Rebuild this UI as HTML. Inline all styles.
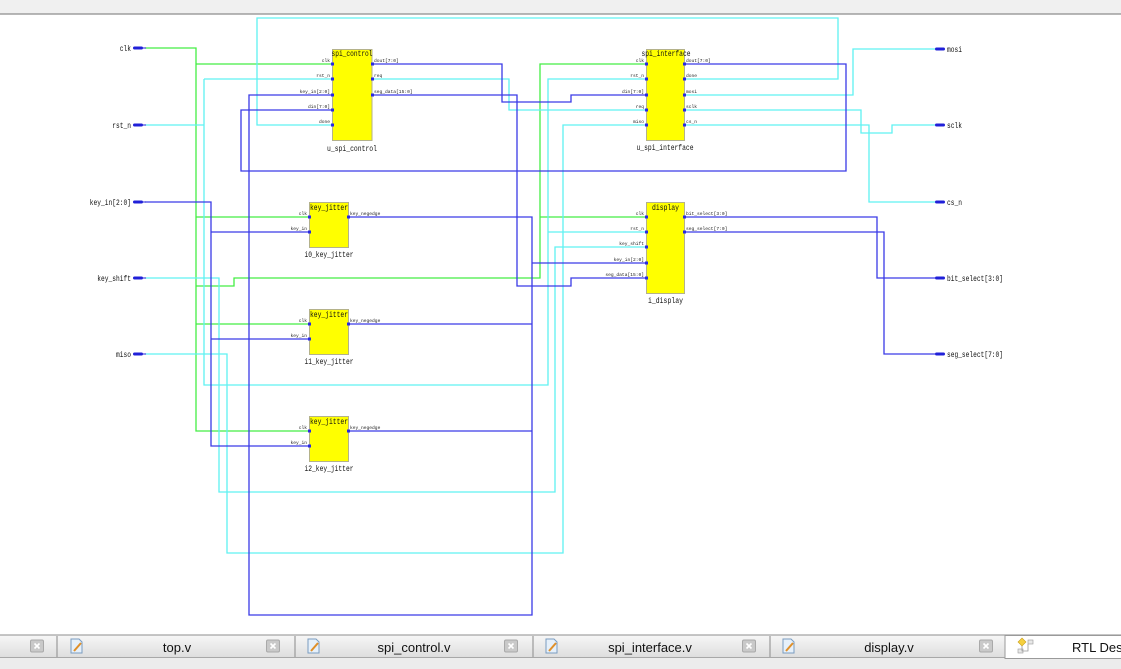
<!DOCTYPE html>
<html><head><meta charset="utf-8"><style>
html,body{margin:0;padding:0;background:#fff;}
svg{display:block;}
.pl{font-family:"Liberation Mono",monospace;font-size:8px;fill:#111;}
.pn{font-family:"Liberation Mono",monospace;font-size:4.6px;fill:#222;}
.tab{font-family:"Liberation Sans",sans-serif;font-size:13px;fill:#111;}
</style></head><body>
<svg width="1121" height="669" viewBox="0 0 1121 669" xmlns="http://www.w3.org/2000/svg">
<rect x="0" y="0" width="1121" height="669" fill="#fff"/>
<!-- header -->
<rect x="0" y="0" width="1121" height="14" fill="#f0f0f0"/>
<line x1="0" y1="14" x2="1121" y2="14" stroke="#8c8c8c" stroke-width="1.3"/>

<!-- green wires -->
<g fill="none" stroke="#44ee44" stroke-width="1.3">
<path d="M145 48 H196 V431 H309"/>
<path d="M196 64 H332"/>
<path d="M196 217 H309"/>
<path d="M196 324 H309"/>
<path d="M196 286 H234 V278 H540 V64 H646"/>
<path d="M540 217 H646"/>
</g>
<!-- cyan wires -->
<g fill="none" stroke="#5ff2f2" stroke-width="1.3">
<path d="M145 125 H204"/>
<path d="M204 79 V385 H548 V79 H646"/>
<path d="M204 79 H332"/>
<path d="M548 232 H646"/>
<path d="M684 79 H838 V18 H257 V125 H332"/>
<path d="M684 95 H853 V49 H935"/>
<path d="M684 110 H861 V133 H892 V125 H935"/>
<path d="M684 125 H869 V202 H935"/>
<path d="M372 79 H509 V110 H646"/>
<path d="M145 278 H219 V492 H555 V247 H646"/>
<path d="M145 354 H227 V553 H563 V125 H646"/>
</g>
<!-- blue wires -->
<g fill="none" stroke="#3a3ae6" stroke-width="1.3">
<path d="M145 202 H211 V446 H309"/>
<path d="M211 232 H309"/>
<path d="M211 339 H309"/>
<path d="M348 217 H532 V615 H249 V95 H332"/>
<path d="M348 324 H532"/>
<path d="M348 431 H532"/>
<path d="M532 263 H646"/>
<path d="M684 64 H846 V171 H241 V110 H332"/>
<path d="M372 64 H502 V102 H571 V95 H646"/>
<path d="M372 95 H517 V286 H571 V278 H646"/>
<path d="M684 217 H877 V278 H935"/>
<path d="M684 232 H884 V354 H935"/>
</g>

<!-- ports left -->
<g fill="#2020d8">
<rect x="133" y="46.5" width="10" height="3" rx="1.5"/><rect x="142" y="47.5" width="4" height="1"/>
<rect x="133" y="123.5" width="10" height="3" rx="1.5"/><rect x="142" y="124.5" width="4" height="1"/>
<rect x="133" y="200.5" width="10" height="3" rx="1.5"/><rect x="142" y="201.5" width="4" height="1"/>
<rect x="133" y="276.5" width="10" height="3" rx="1.5"/><rect x="142" y="277.5" width="4" height="1"/>
<rect x="133" y="352.5" width="10" height="3" rx="1.5"/><rect x="142" y="353.5" width="4" height="1"/>
<!-- ports right -->
<rect x="935" y="47.5" width="10" height="3" rx="1.5"/>
<rect x="935" y="123.5" width="10" height="3" rx="1.5"/>
<rect x="935" y="200.5" width="10" height="3" rx="1.5"/>
<rect x="935" y="276.5" width="10" height="3" rx="1.5"/>
<rect x="935" y="352.5" width="10" height="3" rx="1.5"/>
</g>
<g class="pl">
<text x="131" y="51" text-anchor="end" textLength="11.25" lengthAdjust="spacingAndGlyphs">clk</text>
<text x="131" y="128" text-anchor="end" textLength="18.75" lengthAdjust="spacingAndGlyphs">rst_n</text>
<text x="131" y="205" text-anchor="end" textLength="41.25" lengthAdjust="spacingAndGlyphs">key_in[2:0]</text>
<text x="131" y="281" text-anchor="end" textLength="33.75" lengthAdjust="spacingAndGlyphs">key_shift</text>
<text x="131" y="357" text-anchor="end" textLength="15" lengthAdjust="spacingAndGlyphs">miso</text>
<text x="947" y="52" textLength="15" lengthAdjust="spacingAndGlyphs">mosi</text>
<text x="947" y="128" textLength="15" lengthAdjust="spacingAndGlyphs">sclk</text>
<text x="947" y="205" textLength="15" lengthAdjust="spacingAndGlyphs">cs_n</text>
<text x="947" y="281" textLength="56" lengthAdjust="spacingAndGlyphs">bit_select[3:0]</text>
<text x="947" y="357" textLength="56" lengthAdjust="spacingAndGlyphs">seg_select[7:0]</text>
</g>

<!-- blocks -->
<g fill="#ffff00" stroke="#b4b28a" stroke-width="1">
<rect x="332.5" y="49.5" width="39.5" height="91"/>
<rect x="646.5" y="49.5" width="38" height="91"/>
<rect x="646.5" y="202.5" width="38" height="91"/>
<rect x="309.5" y="202.5" width="39" height="45"/>
<rect x="309.5" y="309.5" width="39" height="45"/>
<rect x="309.5" y="416.5" width="39" height="45"/>
</g>
<!-- pin markers -->
<g fill="#2a2ae0">
<rect x="331" y="62.5" width="3" height="3"/><rect x="331" y="77.5" width="3" height="3"/><rect x="331" y="93.5" width="3" height="3"/><rect x="331" y="108.5" width="3" height="3"/><rect x="331" y="123.5" width="3" height="3"/>
<rect x="371" y="62.5" width="3" height="3"/><rect x="371" y="77.5" width="3" height="3"/><rect x="371" y="93.5" width="3" height="3"/>
<rect x="645" y="62.5" width="3" height="3"/><rect x="645" y="77.5" width="3" height="3"/><rect x="645" y="93.5" width="3" height="3"/><rect x="645" y="108.5" width="3" height="3"/><rect x="645" y="123.5" width="3" height="3"/>
<rect x="683" y="62.5" width="3" height="3"/><rect x="683" y="77.5" width="3" height="3"/><rect x="683" y="93.5" width="3" height="3"/><rect x="683" y="108.5" width="3" height="3"/><rect x="683" y="123.5" width="3" height="3"/>
<rect x="645" y="215.5" width="3" height="3"/><rect x="645" y="230.5" width="3" height="3"/><rect x="645" y="245.5" width="3" height="3"/><rect x="645" y="261.5" width="3" height="3"/><rect x="645" y="276.5" width="3" height="3"/>
<rect x="683" y="215.5" width="3" height="3"/><rect x="683" y="230.5" width="3" height="3"/>
<rect x="308" y="215.5" width="3" height="3"/><rect x="308" y="230.5" width="3" height="3"/><rect x="347" y="215.5" width="3" height="3"/>
<rect x="308" y="322.5" width="3" height="3"/><rect x="308" y="337.5" width="3" height="3"/><rect x="347" y="322.5" width="3" height="3"/>
<rect x="308" y="429.5" width="3" height="3"/><rect x="308" y="444.5" width="3" height="3"/><rect x="347" y="429.5" width="3" height="3"/>
</g>

<!-- block titles and instance names -->
<g class="pl" text-anchor="middle">
<text x="352" y="56" textLength="41" lengthAdjust="spacingAndGlyphs">spi_control</text>
<text x="352" y="151" textLength="50" lengthAdjust="spacingAndGlyphs">u_spi_control</text>
<text x="666" y="56" textLength="49" lengthAdjust="spacingAndGlyphs">spi_interface</text>
<text x="665" y="150" textLength="57" lengthAdjust="spacingAndGlyphs">u_spi_interface</text>
<text x="665.5" y="210" textLength="27" lengthAdjust="spacingAndGlyphs">display</text>
<text x="665.5" y="303" textLength="35" lengthAdjust="spacingAndGlyphs">i_display</text>
<text x="329" y="210" textLength="38" lengthAdjust="spacingAndGlyphs">key_jitter</text>
<text x="329" y="257" textLength="49" lengthAdjust="spacingAndGlyphs">i0_key_jitter</text>
<text x="329" y="317" textLength="38" lengthAdjust="spacingAndGlyphs">key_jitter</text>
<text x="329" y="364" textLength="49" lengthAdjust="spacingAndGlyphs">i1_key_jitter</text>
<text x="329" y="424" textLength="38" lengthAdjust="spacingAndGlyphs">key_jitter</text>
<text x="329" y="471" textLength="49" lengthAdjust="spacingAndGlyphs">i2_key_jitter</text>
</g>

<!-- pin labels -->
<g class="pn" text-anchor="end">
<text x="330" y="62">clk</text><text x="330" y="77">rst_n</text><text x="330" y="93">key_in[2:0]</text><text x="330" y="108">din[7:0]</text><text x="330" y="123">done</text>
<text x="644" y="62">clk</text><text x="644" y="77">rst_n</text><text x="644" y="93">din[7:0]</text><text x="644" y="108">req</text><text x="644" y="123">miso</text>
<text x="644" y="215">clk</text><text x="644" y="230">rst_n</text><text x="644" y="245">key_shift</text><text x="644" y="261">key_in[2:0]</text><text x="644" y="276">seg_data[15:0]</text>
<text x="307" y="215">clk</text><text x="307" y="230">key_in</text>
<text x="307" y="322">clk</text><text x="307" y="337">key_in</text>
<text x="307" y="429">clk</text><text x="307" y="444">key_in</text>
</g>
<g class="pn">
<text x="374" y="62">dout[7:0]</text><text x="374" y="77">req</text><text x="374" y="93">seg_data[15:0]</text>
<text x="686" y="62">dout[7:0]</text><text x="686" y="77">done</text><text x="686" y="93">mosi</text><text x="686" y="108">sclk</text><text x="686" y="123">cs_n</text>
<text x="686" y="215">bit_select[3:0]</text><text x="686" y="230">seg_select[7:0]</text>
<text x="350" y="215">key_negedge</text><text x="350" y="322">key_negedge</text><text x="350" y="429">key_negedge</text>
</g>

<!-- bottom tab bar -->
<defs>
<linearGradient id="tg" x1="0" y1="0" x2="0" y2="1">
<stop offset="0" stop-color="#f7f7f7"/><stop offset="1" stop-color="#dedede"/>
</linearGradient>
</defs>
<rect x="0" y="635" width="1121" height="22" fill="url(#tg)"/>
<line x1="0" y1="635" x2="1121" y2="635" stroke="#8e8e8e" stroke-width="1"/>
<line x1="0" y1="657.5" x2="1121" y2="657.5" stroke="#a8a8a8" stroke-width="1"/>
<rect x="0" y="658" width="1121" height="11" fill="#ececec"/>
<g stroke="#9a9a9a" stroke-width="1.2">
<line x1="57" y1="636" x2="57" y2="657"/><line x1="295" y1="636" x2="295" y2="657"/><line x1="533" y1="636" x2="533" y2="657"/><line x1="770" y1="636" x2="770" y2="657"/>
</g>
<!-- close buttons -->
<g>
<g transform="translate(37,646)"><rect x="-6.5" y="-6" width="13" height="12" rx="1.5" fill="#c9c9c9" stroke="#a9a9a9"/><path d="M-2.5 -2.5 L2.5 2.5 M2.5 -2.5 L-2.5 2.5" stroke="#fff" stroke-width="1.6"/></g>
<g transform="translate(273,646)"><rect x="-6.5" y="-6" width="13" height="12" rx="1.5" fill="#c9c9c9" stroke="#a9a9a9"/><path d="M-2.5 -2.5 L2.5 2.5 M2.5 -2.5 L-2.5 2.5" stroke="#fff" stroke-width="1.6"/></g>
<g transform="translate(511,646)"><rect x="-6.5" y="-6" width="13" height="12" rx="1.5" fill="#c9c9c9" stroke="#a9a9a9"/><path d="M-2.5 -2.5 L2.5 2.5 M2.5 -2.5 L-2.5 2.5" stroke="#fff" stroke-width="1.6"/></g>
<g transform="translate(749,646)"><rect x="-6.5" y="-6" width="13" height="12" rx="1.5" fill="#c9c9c9" stroke="#a9a9a9"/><path d="M-2.5 -2.5 L2.5 2.5 M2.5 -2.5 L-2.5 2.5" stroke="#fff" stroke-width="1.6"/></g>
<g transform="translate(986,646)"><rect x="-6.5" y="-6" width="13" height="12" rx="1.5" fill="#c9c9c9" stroke="#a9a9a9"/><path d="M-2.5 -2.5 L2.5 2.5 M2.5 -2.5 L-2.5 2.5" stroke="#fff" stroke-width="1.6"/></g>
</g>
<!-- doc icons -->
<g>
<g transform="translate(71,639)"><path d="M0 0 H8 L11 3 V14 H0 Z" fill="#e6f0fa" stroke="#7a9cc0"/><path d="M3 12 L10 4" stroke="#e0902a" stroke-width="2"/></g>
<g transform="translate(308,639)"><path d="M0 0 H8 L11 3 V14 H0 Z" fill="#e6f0fa" stroke="#7a9cc0"/><path d="M3 12 L10 4" stroke="#e0902a" stroke-width="2"/></g>
<g transform="translate(546,639)"><path d="M0 0 H8 L11 3 V14 H0 Z" fill="#e6f0fa" stroke="#7a9cc0"/><path d="M3 12 L10 4" stroke="#e0902a" stroke-width="2"/></g>
<g transform="translate(783,639)"><path d="M0 0 H8 L11 3 V14 H0 Z" fill="#e6f0fa" stroke="#7a9cc0"/><path d="M3 12 L10 4" stroke="#e0902a" stroke-width="2"/></g>
</g>
<g class="tab" text-anchor="middle">
<text x="177" y="652">top.v</text>
<text x="414" y="652">spi_control.v</text>
<text x="650" y="652">spi_interface.v</text>
<text x="889" y="652">display.v</text>
</g>
<!-- active tab -->
<rect x="1005" y="635.5" width="117" height="23" fill="#fff" stroke="#9a9a9a" stroke-width="1"/>
<g transform="translate(1018,638)">
<path d="M4 0 L8 4 L4 8 L0 4 Z" fill="#f5d040" stroke="#c9a020" stroke-width="0.6"/>
<rect x="10" y="2" width="5" height="4" fill="#e8e8e8" stroke="#999" stroke-width="0.6"/>
<rect x="0" y="11" width="5" height="4" fill="#e8e8e8" stroke="#999" stroke-width="0.6"/>
<path d="M4 8 V13 H10 V6" fill="none" stroke="#999" stroke-width="0.8"/>
</g>
<text class="tab" x="1072" y="652">RTL Des</text>
</svg>
</body></html>
